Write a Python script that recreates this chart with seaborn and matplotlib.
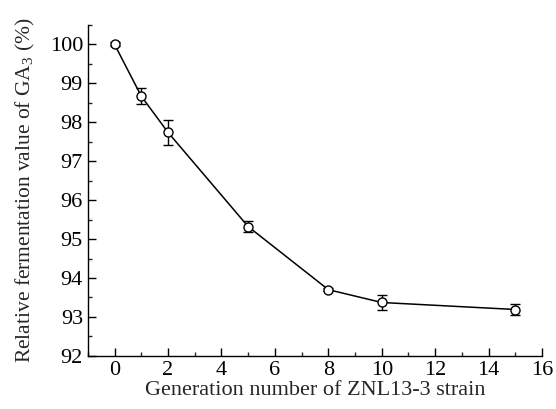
import matplotlib
matplotlib.use("Agg")
import matplotlib.pyplot as plt
import seaborn as sns
import pandas as pd
from matplotlib.ticker import MultipleLocator

generations = [0, 1, 2, 5, 8, 10, 15]
values = [100.0, 98.67, 97.74, 95.32, 93.70, 93.37, 93.19]
errors = [0.05, 0.20, 0.33, 0.15, 0.04, 0.20, 0.14]

sns.set_style("ticks")
plt.rcParams['font.family'] = ['Liberation Serif', 'DejaVu Serif']
plt.rcParams['mathtext.fontset'] = 'custom'
plt.rcParams['mathtext.rm'] = 'Liberation Serif'
plt.rcParams['mathtext.it'] = 'Liberation Serif:italic'

df = pd.DataFrame({"gen": generations, "val": values, "err": errors})

fig = plt.figure(figsize=(5.56, 4.09), dpi=100)
ax = fig.add_axes([0.158, 0.130, 0.817, 0.809])

ax.errorbar(df["gen"], df["val"], yerr=df["err"], fmt="none", ecolor="black",
            elinewidth=1.0, capsize=3.5, capthick=1.0, zorder=2)
sns.lineplot(data=df, x="gen", y="val", ax=ax, color="black", linewidth=1.1,
             marker="o", markersize=6.5, markerfacecolor="white",
             markeredgecolor="black", markeredgewidth=1.0, zorder=3)

ax.set_xlim(-1, 16)
ax.set_ylim(92, 100.5)
ax.xaxis.set_major_locator(MultipleLocator(2))
ax.xaxis.set_minor_locator(MultipleLocator(1))
ax.yaxis.set_major_locator(MultipleLocator(1))
ax.yaxis.set_minor_locator(MultipleLocator(0.5))
ax.tick_params(which="major", direction="in", length=6, width=1.0, labelsize=16, colors="black")
ax.tick_params(which="minor", direction="in", length=3, width=1.0)

sns.despine(ax=ax)
for s in ["left", "bottom"]:
    ax.spines[s].set_linewidth(1.0)
    ax.spines[s].set_color("black")

ax.set_xlabel("Generation number of ZNL13-3 strain", fontsize=16, labelpad=1)
ax.set_ylabel("Relative fermentation value of GA$_3$ (%)", fontsize=15.5, labelpad=9)

fig.savefig("out.png", dpi=100)
